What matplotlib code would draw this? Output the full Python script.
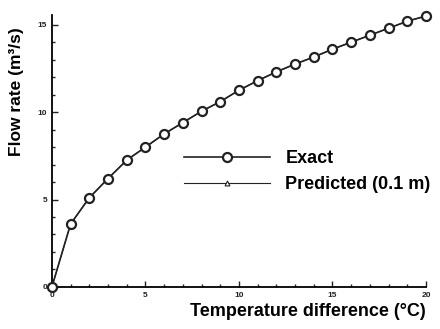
import matplotlib
matplotlib.use("Agg")
from matplotlib import pyplot as plt
from matplotlib.ticker import MultipleLocator

# data
temp_diff = [0, 1, 2, 3, 4, 5, 6, 7, 8, 9, 10, 11, 12, 13, 14, 15, 16, 17, 18, 19, 20]
exact = [0, 3.6, 5.1, 6.2, 7.25, 8.0, 8.75, 9.4, 10.05, 10.6, 11.25, 11.8, 12.3,
         12.75, 13.15, 13.6, 14.0, 14.4, 14.8, 15.2, 15.5]
predicted = [0, 3.6, 5.1, 6.2, 7.25, 8.0, 8.75, 9.4, 10.05, 10.6, 11.25, 11.8, 12.3,
             12.75, 13.15, 13.6, 14.0, 14.4, 14.8, 15.2, 15.5]

plt.rcParams['font.family'] = ['Liberation Sans', 'DejaVu Sans']

fig = plt.figure(figsize=(4.4, 3.29), dpi=100)
ax = fig.add_axes([0.118, 0.128, 0.85, 0.826])

# predicted sits underneath, the circles hide the triangles
ax.plot(temp_diff, predicted, color='#222222', lw=0.8, marker='^', ms=3.5,
        mfc='white', mec='#222222', mew=0.8, label='Predicted (0.1 m)',
        zorder=2, clip_on=False)
ax.plot(temp_diff, exact, color='#222222', lw=1.2, marker='o', ms=6.5,
        mfc='white', mec='#222222', mew=1.6, label='Exact', zorder=3,
        clip_on=False)

ax.set_xlim(0, 20)
ax.set_ylim(0, 15.55)
ax.xaxis.set_major_locator(MultipleLocator(5))
ax.xaxis.set_minor_locator(MultipleLocator(1))
ax.yaxis.set_major_locator(MultipleLocator(5))
ax.yaxis.set_minor_locator(MultipleLocator(1))
ax.tick_params(which='both', direction='in', width=1.0, colors='#222222',
               labelsize=6)
ax.tick_params(which='major', length=4)
ax.tick_params(which='minor', length=2.5)
for lab in ax.get_xticklabels() + ax.get_yticklabels():
    lab.set_fontweight('bold')

ax.spines['top'].set_visible(False)
ax.spines['right'].set_visible(False)
ax.spines['left'].set_linewidth(1.3)
ax.spines['bottom'].set_linewidth(1.3)

ax.set_xlabel('Temperature difference (°C)', fontsize=13, fontweight='bold',
              labelpad=3, loc='right')
ax.set_ylabel('Flow rate (m³/s)', fontsize=12.5, fontweight='bold')
ax.yaxis.set_label_coords(-0.075, 0.72)

handles, labels = ax.get_legend_handles_labels()
ax.legend(handles[::-1], labels[::-1], loc='center left',
          bbox_to_anchor=(0.309, 0.425), frameon=False, handlelength=4.8,
          numpoints=1, labelspacing=0.5, handletextpad=0.83,
          prop={'weight': 'bold', 'size': 13})

fig.savefig('out.png', dpi=100)
